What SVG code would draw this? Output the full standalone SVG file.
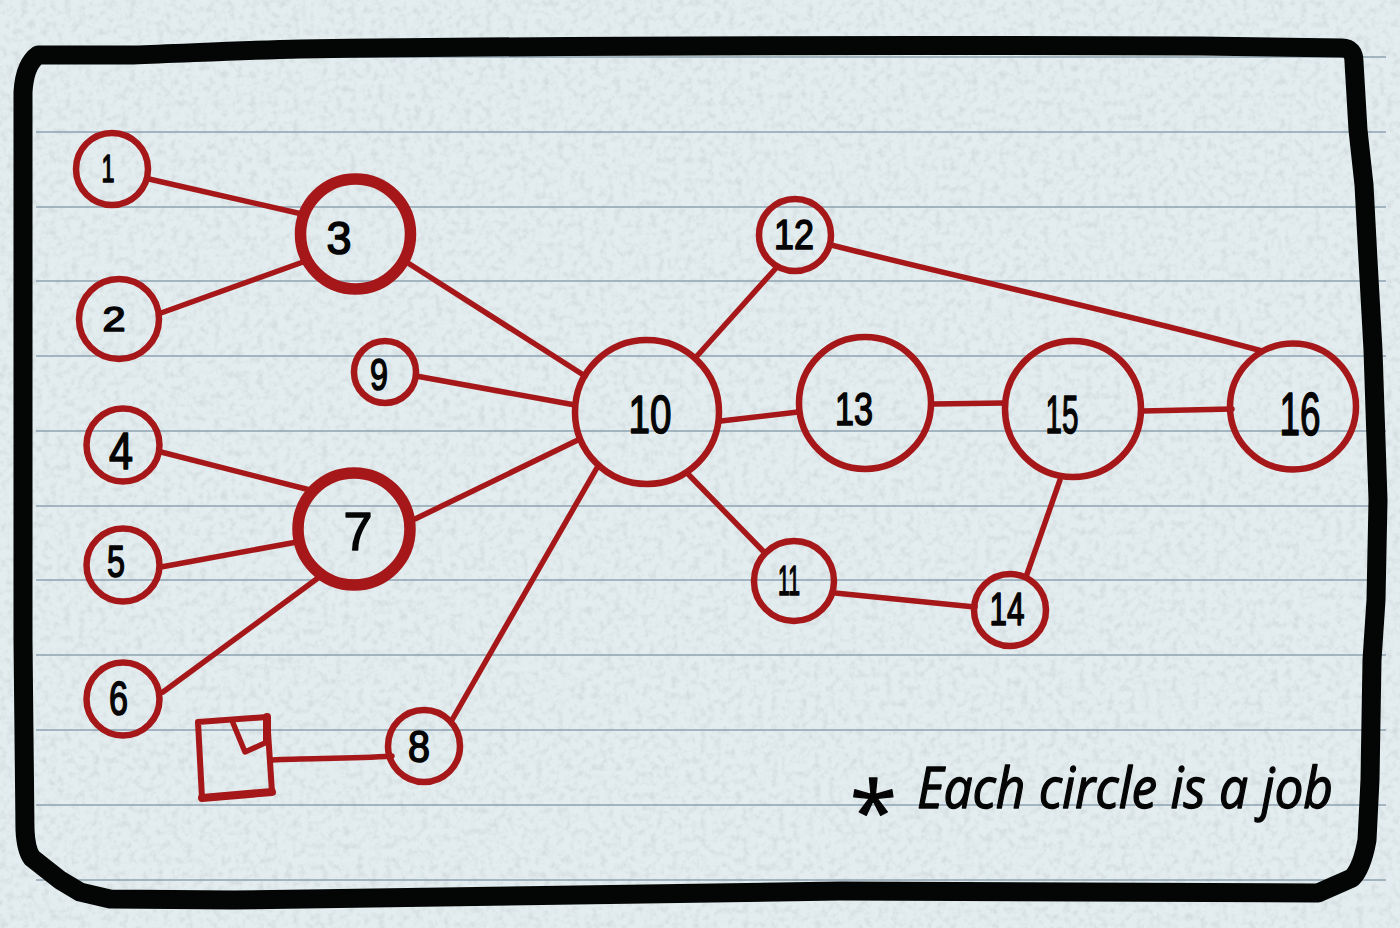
<svg xmlns="http://www.w3.org/2000/svg" width="1400" height="928" viewBox="0 0 1400 928">
<style>
.rule{stroke:#8fa3b3;stroke-width:1.4;fill:none}
.frame{stroke:#030605;stroke-width:19;fill:none;stroke-linejoin:round;stroke-linecap:round}
.edge{stroke:#a61719;stroke-width:5.5;fill:none;stroke-linecap:round;stroke-linejoin:round}
.c{fill:none;stroke:#a61719;stroke-width:6.5}
.b{fill:none;stroke:#a61719;stroke-width:11.5}
text{font-family:"Liberation Sans",Arial,sans-serif;fill:#050505;stroke:#050505;stroke-width:1.6;stroke-linejoin:round;text-anchor:middle}
.note{font-family:"Open Sans","Liberation Sans",sans-serif;font-style:italic;font-size:56px;text-anchor:start;stroke-width:1.3}
</style>
<defs>
<filter id="paper" x="0" y="0" width="100%" height="100%">
<feTurbulence type="fractalNoise" baseFrequency="0.14" numOctaves="3" seed="4"/>
<feColorMatrix values="0 0 0 0 0.62  0 0 0 0 0.68  0 0 0 0 0.70  2.6 0 0 0 -1.15"/>
</filter>
</defs>
<rect id="background" width="1400" height="928" fill="#e3edef"/>
<rect width="1400" height="928" filter="url(#paper)" opacity="0.7"/>
<g id="rules">
<path class="rule" d="M36 57H1386M36 132H1386M36 207H1386M36 281H1386M36 356H1386M36 431H1386M36 506H1386M36 580H1386M36 655H1386M36 730H1386M36 805H1386M36 880H1386"/>
</g>
<path id="frame" class="frame" d="M23 92C24 76 28 62 38 55L133 55C190 53 250 50 300 49C600 45 900 45 1200 46L1342 48Q1354 48 1354 62L1358 130L1364 185L1368 260L1373 350L1378 500L1376 600L1372 660L1370 780L1367 840Q1362 868 1352 878L1318 893L840 891L233 900L110 899L80 892L60 880L32 858Q26 850 25 830L23 640Z"/>
<g id="connectors">
<path class="edge" d="M149 179L302 214"/>
<path class="edge" d="M161 313L303 262"/>
<path class="edge" d="M408 263L585 376"/>
<path class="edge" d="M416 376L575 405"/>
<path class="edge" d="M161 452L310 490"/>
<path class="edge" d="M161 567L297 542"/>
<path class="edge" d="M163 692L318 578"/>
<path class="edge" d="M415 519L580 439"/>
<path class="edge" d="M452 720L598 466"/>
<path class="edge" d="M697 356L777 267"/>
<path class="edge" d="M721 421L798 412"/>
<path class="edge" d="M689 475L764 552"/>
<path class="edge" d="M831 245C950 275 1130 315 1262 351"/>
<path class="edge" d="M933 404L1004 403"/>
<path class="edge" d="M1143 411L1232 409"/>
<path class="edge" d="M835 593L975 607"/>
<path class="edge" d="M1026 577L1060 480"/>
<path class="edge" d="M272 760C310 758 350 759 392 756"/>
</g>
<g id="n1"><circle class="c" cx="112" cy="169" r="36"/><text font-size="38" x="108" y="182" textLength="13" lengthAdjust="spacingAndGlyphs">1</text></g>
<g id="n2"><circle class="c" cx="119" cy="319" r="40"/><text font-size="35" x="114" y="331" textLength="23" lengthAdjust="spacingAndGlyphs">2</text></g>
<g id="n3"><circle class="b" cx="355.500" cy="234" r="55"/><text font-size="47" x="339" y="254" textLength="25" lengthAdjust="spacingAndGlyphs">3</text></g>
<g id="n4"><circle class="c" cx="123" cy="445" r="36.500"/><text font-size="52" x="121" y="469" textLength="24" lengthAdjust="spacingAndGlyphs">4</text></g>
<g id="n5"><circle class="c" cx="123" cy="565" r="36.500"/><text font-size="45" x="116" y="577" textLength="18" lengthAdjust="spacingAndGlyphs">5</text></g>
<g id="n6"><circle class="c" cx="123" cy="699" r="36.500"/><text font-size="48" x="118.500" y="715" textLength="19" lengthAdjust="spacingAndGlyphs">6</text></g>
<g id="n7"><circle class="b" cx="354" cy="529" r="56"/><text font-size="54" x="358" y="550" textLength="29" lengthAdjust="spacingAndGlyphs">7</text></g>
<g id="n8"><circle class="c" cx="424" cy="746" r="36"/><text font-size="45" x="419" y="762" textLength="22" lengthAdjust="spacingAndGlyphs">8</text></g>
<g id="n9"><circle class="c" cx="385" cy="372" r="31"/><text font-size="45" x="379" y="390" textLength="18" lengthAdjust="spacingAndGlyphs">9</text></g>
<g id="n10"><circle class="c" cx="647" cy="412" r="72"/><text font-size="54" x="650" y="433" textLength="43" lengthAdjust="spacingAndGlyphs">10</text></g>
<g id="n11"><circle class="c" cx="794" cy="581" r="40"/><text font-size="43" x="789" y="595" textLength="22" lengthAdjust="spacingAndGlyphs">11</text></g>
<g id="n12"><circle class="c" cx="795" cy="235" r="36"/><text font-size="43" x="794" y="249" textLength="40" lengthAdjust="spacingAndGlyphs">12</text></g>
<g id="n13"><circle class="c" cx="865" cy="403" r="66"/><text font-size="47" x="854" y="425" textLength="38" lengthAdjust="spacingAndGlyphs">13</text></g>
<g id="n14"><circle class="c" cx="1010" cy="610" r="36"/><text font-size="47" x="1007" y="625" textLength="35" lengthAdjust="spacingAndGlyphs">14</text></g>
<g id="n15"><circle class="c" cx="1073" cy="409" r="68"/><text font-size="54" x="1062" y="433" textLength="33" lengthAdjust="spacingAndGlyphs">15</text></g>
<g id="n16"><circle class="c" cx="1293" cy="406.500" r="63"/><text font-size="62" x="1300" y="435" textLength="41" lengthAdjust="spacingAndGlyphs">16</text></g>
<g id="clock">
<path class="edge" style="stroke-width:6" d="M198 722L267 717L272 792L202 798Z"/>
<path class="edge" d="M233 723L245 752L267 742"/>
<path class="edge" style="stroke-width:8" d="M202 798L272 792"/>
<path class="edge" style="stroke-width:8" d="M267 717V740"/>
</g>
<text id="note" class="note"><tspan x="850" y="842" font-size="85" font-style="normal">* </tspan><tspan x="917" y="808" textLength="416" lengthAdjust="spacingAndGlyphs">Each circle is a job</tspan></text>
</svg>
